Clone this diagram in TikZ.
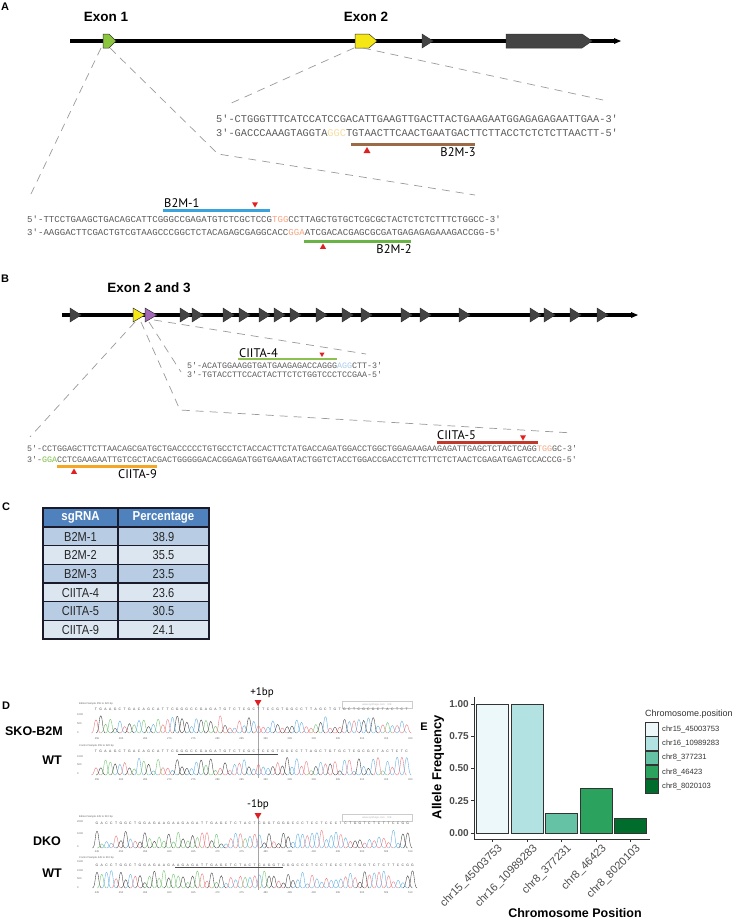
\documentclass[tikz,border=0pt]{standalone}
\usepackage{fontspec}
\setmainfont{Liberation Sans}
\newfontfamily\seqfont{Liberation Mono}
\newfontfamily\guidefont{PT Sans}
\usepackage{tikz}
\usetikzlibrary{shapes.geometric}

\definecolor{exongreen}{HTML}{8CC63F}
\definecolor{exonyellow}{HTML}{F5E616}
\definecolor{exonpurple}{HTML}{A366B8}
\definecolor{exongray}{HTML}{444444}
\definecolor{seqgray}{HTML}{5A5A5A}
\definecolor{dashgray}{HTML}{9A9A9A}
\definecolor{b2mblue}{HTML}{3BA3DB}
\definecolor{b2mgreen}{HTML}{6AB446}
\definecolor{b2mbrown}{HTML}{9C6B45}
\definecolor{ciitagreen}{HTML}{8CC152}
\definecolor{ciitared}{HTML}{C0392B}
\definecolor{ciitaorange}{HTML}{F5A623}
\definecolor{cutred}{HTML}{E02020}
\definecolor{pamorange}{HTML}{F4A582}
\definecolor{pamyellow}{HTML}{F7DCA0}
\definecolor{pamblue}{HTML}{A9CCE8}
\definecolor{pamgreen}{HTML}{7AC143}
\definecolor{tabhead}{HTML}{4F81BD}
\definecolor{tabdark}{HTML}{B8CCE4}
\definecolor{tablight}{HTML}{DCE6F1}
\definecolor{tabline}{HTML}{1A1A2A}
\definecolor{bugnA}{HTML}{EDF8FB}
\definecolor{bugnB}{HTML}{B2E2E2}
\definecolor{bugnC}{HTML}{66C2A4}
\definecolor{bugnD}{HTML}{2CA25F}
\definecolor{bugnE}{HTML}{006D2C}
\definecolor{peakA}{HTML}{6CC06A}
\definecolor{peakC}{HTML}{5AAAE2}
\definecolor{peakG}{HTML}{3A3A3A}
\definecolor{peakT}{HTML}{EC7077}

\tikzstyle{panel} = [font=\bfseries\fontsize{11}{11}\selectfont, inner sep=0]
\tikzstyle{exontitle} = [font=\bfseries\fontsize{13.5}{14}\selectfont, inner sep=0]
\tikzstyle{geneline} = [line width=4pt, black]
\tikzstyle{exonbox} = [draw=black!80, line width=0.5pt]
\tikzstyle{zoomline} = [dashgray, line width=0.7pt, dash pattern=on 8pt off 6pt]
\tikzstyle{guide} = [line width=3pt]
\tikzstyle{guidelabel} = [font=\guidefont\fontsize{12.5}{13}\selectfont, inner sep=0]
\tikzstyle{cutup} = [regular polygon, regular polygon sides=3, fill=cutred, inner sep=0, minimum size=8pt]
\tikzstyle{cutdown} = [cutup, shape border rotate=180]
\tikzstyle{seqline} = [text=seqgray, inner sep=0, anchor=base west]
\tikzstyle{cellhead} = [font=\bfseries\fontsize{13}{13}\selectfont, text=white, xscale=0.88, inner sep=0]
\tikzstyle{cell} = [font=\fontsize{13}{13}\selectfont, text=black!85, xscale=0.85, inner sep=0]
\tikzstyle{ticklab} = [font=\bfseries\fontsize{10}{10}\selectfont, text=black!70, inner sep=0]
\tikzstyle{xlab} = [font=\fontsize{11}{11}\selectfont, text=black!70, rotate=45, anchor=north east, inner sep=0]
\tikzstyle{axistitle} = [font=\bfseries\fontsize{13}{13}\selectfont, inner sep=0]
\tikzstyle{bar} = [draw=black!80, line width=0.7pt]
\tikzstyle{legendlab} = [font=\fontsize{7.6}{8}\selectfont, text=black!80, anchor=west, inner sep=0]
\tikzstyle{tinytext} = [font=\fontsize{2.6}{3}\selectfont, text=black!60, inner sep=0]
\tikzstyle{baseletter} = [font=\fontsize{3.4}{4}\selectfont, text=black!70, inner sep=0]
\tikzstyle{sample} = [font=\bfseries\fontsize{12.5}{13}\selectfont, inner sep=0, anchor=east]
\tikzstyle{traceA} = [peakA, line width=0.35pt]
\tikzstyle{traceC} = [peakC, line width=0.35pt]
\tikzstyle{traceG} = [peakG, line width=0.35pt]
\tikzstyle{traceT} = [peakT, line width=0.35pt]

\newcommand\seqbig{\seqfont\fontsize{10.3}{12}\selectfont}
\newcommand\seqmid{\seqfont\fontsize{9.07}{11}\selectfont}
\newcommand\seqsmall{\seqfont\fontsize{8.33}{10}\selectfont}

% one peak and one letter per base
\newcount\basenum
\newcommand\chromo[4]{\def\chx{#1}\def\chy{#2}\def\chl{#3}\global\basenum=0 \chromonext#4\relax}
\def\chromonext#1{\ifx#1\relax\else\chromopeak{#1}\global\advance\basenum by 1 \expandafter\chromonext\fi}
\def\chromopeak#1{%
  \pgfmathsetmacro\pkx{\chx+4.78*\the\basenum}%
  \pgfmathsetmacro\pkh{4+14*rnd}%
  \draw[trace#1] ({\pkx-4.6},\chy) .. controls ({\pkx-1.6},\chy) and ({\pkx-1.9},{\chy-\pkh}) .. (\pkx,{\chy-\pkh}) .. controls ({\pkx+1.9},{\chy-\pkh}) and ({\pkx+1.6},\chy) .. ({\pkx+4.6},\chy);%
  \node[baseletter] at (\pkx,\chl) {#1};}

\begin{document}
\begin{tikzpicture}[x=1pt,y=-1pt]
\useasboundingbox[fill=white] (0,0) rectangle (735,922);
\pgfmathsetseed{11}

% ---------- A ----------
\node[panel] (la) at (5,7) {A};
\node[exontitle] (ex1) at (106,17) {Exon 1};
\node[exontitle] (ex2) at (366,17) {Exon 2};
\draw[geneline] (70,41) -- (616,41);
\fill (614,38) -- (621,41) -- (614,44) -- cycle;
\filldraw[exonbox, fill=exongreen] (103,34) -- (109,34) -- (116,41) -- (109,48) -- (103,48) -- cycle;
\filldraw[exonbox, fill=exonyellow] (355,34) -- (369,34) -- (377,41) -- (369,48) -- (355,48) -- cycle;
\filldraw[exonbox, fill=exongray] (422,34) -- (433,41) -- (422,48) -- cycle;
\filldraw[exonbox, fill=exongray] (506,34) -- (582,34) -- (592,41) -- (582,48) -- (506,48) -- cycle;

\coordinate (e1a) at (101,48);
\coordinate (e1b) at (110,48);
\coordinate (e2a) at (354,48);
\coordinate (e2b) at (363,48);
\draw[zoomline] (e1a) -- (30,196);
\draw[zoomline] (e1b) -- (218,154) -- (475,195);
\draw[zoomline] (e2a) -- (227,105);
\draw[zoomline] (e2b) -- (603,100);

% B2M-3
\node[seqline, font=\seqbig] (s3a) at (216,122) {5'-CTGGGTTTCATCCATCCGACATTGAAGTTGACTTACTGAAGAATGGAGAGAGAATTGAA-3'};
\node[seqline, font=\seqbig] (s3b) at (216,136.5) {3'-GACCCAAAGTAGGTA{\color{pamyellow}GGC}TGTAACTTCAACTGAATGACTTCTTACCTCTCTCTTAACTT-5'};
\draw[guide, b2mbrown] (351,144) -- (475,144);
\node[cutup] (c3) at (367,151) {};
\node[guidelabel, anchor=east] (g3) at (476,152) {B2M-3};

% B2M-1 and B2M-2
\node[guidelabel, anchor=west] (g1) at (164,203) {B2M-1};
\draw[guide, b2mblue] (163,210) -- (270,210);
\node[cutdown, minimum size=7pt] (c1) at (255,204) {};
\node[seqline, font=\seqmid] (s1a) at (27,222.5) {5'-TTCCTGAAGCTGACAGCATTCGGGCCGAGATGTCTCGCTCCG{\color{pamorange}TGG}CCTTAGCTGTGCTCGCGCTACTCTCTCTTTCTGGCC-3'};
\node[seqline, font=\seqmid] (s1b) at (27,235) {3'-AAGGACTTCGACTGTCGTAAGCCCGGCTCTACAGAGCGAGGCACC{\color{pamorange}GGA}ATCGACACGAGCGCGATGAGAGAGAAAGACCGG-5'};
\draw[guide, b2mgreen] (304,241) -- (411,241);
\node[cutup, minimum size=7pt] (c2) at (323,247) {};
\node[guidelabel, anchor=east] (g2) at (412,249.5) {B2M-2};

% ---------- B ----------
\node[panel] (lb) at (5,279) {B};
\node[exontitle] (ex23) at (149,288) {Exon 2 and 3};
\draw[geneline] (62,315) -- (633,315);
\fill (631,312) -- (638,315) -- (631,318) -- cycle;
\foreach \t in {70,180,192,223,239,259,274,290,316,342,361,401,420,459,530,544,570,597}
  \filldraw[exonbox, fill=exongray] (\t,308) -- (\t+11,315) -- (\t,322) -- cycle;
\filldraw[exonbox, fill=exonyellow] (133,308) -- (145,315) -- (133,322) -- cycle;
\filldraw[exonbox, fill=exonpurple] (145,308) -- (157,315) -- (145,322) -- cycle;

\coordinate (e3a) at (135,322);
\coordinate (e3b) at (141,322);
\coordinate (e4a) at (149,322);
\coordinate (e4b) at (154,320);
\draw[zoomline] (e3a) -- (30,437);
\draw[zoomline] (e3b) -- (180,410) -- (573,433);
\draw[zoomline] (e4a) -- (181,372);
\draw[zoomline] (e4b) -- (366,354);

% CIITA-4
\node[guidelabel, anchor=west] (g4) at (239,353) {CIITA-4};
\draw[guide, ciitagreen, line width=2.5pt] (238,359) -- (337,359);
\node[cutdown, minimum size=6pt] (c4) at (322,354) {};
\node[seqline, font=\seqsmall] (s4a) at (187,368.5) {5'-ACATGGAAGGTGATGAAGAGACCAGGG{\color{pamblue}AGG}CTT-3'};
\node[seqline, font=\seqsmall] (s4b) at (187,377.5) {3'-TGTACCTTCCACTACTTCTCTGGTCCCTCCGAA-5'};

% CIITA-5 and CIITA-9
\node[guidelabel, anchor=west] (g5) at (437,435) {CIITA-5};
\draw[guide, ciitared] (437,442) -- (538,442);
\node[cutdown, minimum size=7pt] (c5) at (523,437) {};
\node[seqline, font=\seqsmall] (s5a) at (27,451) {5'-CCTGGAGCTTCTTAACAGCGATGCTGACCCCCTGTGCCTCTACCACTTCTATGACCAGATGGACCTGGCTGGAGAAGAAGAGATTGAGCTCTACTCAGG{\color{pamorange}TGG}GC-3'};
\node[seqline, font=\seqsmall] (s5b) at (27,462.5) {3'-{\color{pamgreen}GGA}CCTCGAAGAATTGTCGCTACGACTGGGGGACACGGAGATGGTGAAGATACTGGTCTACCTGGACCGACCTCTTCTTCTCTAACTCGAGATGAGTCCACCCG-5'};
\draw[guide, ciitaorange] (57,466) -- (157,466);
\node[cutup, minimum size=7pt] (c9) at (74,472) {};
\node[guidelabel, anchor=east] (g9) at (157,474) {CIITA-9};

% ---------- C ----------
\node[panel] (lc) at (6,507) {C};
\fill[tabhead] (43,508) rectangle (209,527);
\node[cellhead] (hsg) at (80.5,517.5) {sgRNA};
\node[cellhead] (hpc) at (163.5,517.5) {Percentage};
\foreach \sg/\pc [count=\r] in {B2M-1/38.9, B2M-2/35.5, B2M-3/23.5, CIITA-4/23.6, CIITA-5/30.5, CIITA-9/24.1} {
  \pgfmathsetmacro\ytop{527+18.67*(\r-1)}
  \ifodd\r \def\rowfill{tabdark}\else \def\rowfill{tablight}\fi
  \fill[\rowfill] (43,\ytop) rectangle (209,\ytop+18.67);
  \node[cell] (sg\r) at (80.5,\ytop+9.6) {\sg};
  \node[cell] (pc\r) at (163.5,\ytop+9.6) {\pc};
}
\foreach \r in {1,...,6}
  \draw[tabline, line width=1.1pt] (43,527+18.67*\r-18.67) -- (209,527+18.67*\r-18.67);
\draw[tabline, line width=1.1pt] (43,508) rectangle (209,639);
\draw[tabline, line width=1.1pt] (118,508) -- (118,639);

% ---------- D ----------
\node[panel] (ld) at (6,706) {D};
\node[sample] (sko) at (63,731) {SKO-B2M};
\node[sample] (wt1) at (62,760) {WT};
\node[sample] (dko) at (61,841) {DKO};
\node[sample] (wt2) at (62,873) {WT};

\draw[black!35, line width=0.5pt] (258,702) -- (258,778);
\draw[black!35, line width=0.5pt] (258,815) -- (258,890);

% edited B2M
\node[tinytext, anchor=west] (hd1) at (79,704) {Edited Sample 255 to 320 bp};
\draw[black!20, line width=0.3pt] (342,701) rectangle (412,708);
\node[tinytext, text=black!30] (wm1) at (377,704.5) {www.synthego.com\quad ICE};
\node[tinytext, anchor=west] (ya1) at (77,715) {1000};
\node[tinytext, anchor=west] (yb1) at (77,724) {500};
\node[tinytext, anchor=west] (yc1) at (77,733) {0};
\chromo{96}{733}{709.3}{TGAAGCTGACAGCATTCGGGCCGAGATGTCTCGCTTCCGTGGCCTTAGCTGTGCTCGCGCTACTCT}
\foreach \n [count=\i from 0] in {255,260,...,320}
  \node[tinytext] at (97+24.1*\i,738.3) {\n};

% control B2M
\node[tinytext, anchor=west] (hd2) at (79,745.7) {Control Sample 255 to 320 bp};
\node[tinytext, anchor=west] (ya2) at (77,757) {1000};
\node[tinytext, anchor=west] (yb2) at (77,765) {500};
\node[tinytext, anchor=west] (yc2) at (77,774) {0};
\chromo{96}{775}{751.7}{TGAAGCTGACAGCATTCGGGCCGAGATGTCTCGCTCCGTGGCCTTAGCTGTGCTCGCGCTACTCTC}
\draw[black!70, line width=0.3pt] (178,754) -- (278,754);
\foreach \n [count=\i from 0] in {255,260,...,320}
  \node[tinytext] at (97+24.1*\i,779.3) {\n};

% cut sites
\node[panel, font=\fontsize{11}{11}\selectfont] (p1) at (262,693) {\guidefont +1bp};
\node[cutdown] (c7) at (258,702) {};
\node[panel, font=\fontsize{11}{11}\selectfont] (m1) at (258,805) {\guidefont -1bp};
\node[cutdown] (c6) at (258,815) {};

% edited DKO
\node[tinytext, anchor=west] (hd3) at (79,816.5) {Edited Sample 445 to 510 bp};
\draw[black!20, line width=0.3pt] (342,814) rectangle (412,821);
\node[tinytext, text=black!30] (wm3) at (377,817.5) {www.synthego.com\quad ICE};
\node[tinytext, anchor=west] (ya3) at (77,821.5) {2000};
\node[tinytext, anchor=west] (yb3) at (77,834) {1000};
\node[tinytext, anchor=west] (yc3) at (77,847) {0};
\chromo{97}{848}{823.5}{GACCTGGCTGGAGAAGAAGAGATTGAGCTCTACTCGGTGGGCCCTCCTCCCTCTGGTCTCTTCCGG}
\foreach \n [count=\i from 0] in {445,450,...,510}
  \node[tinytext] at (97+24.1*\i,851.7) {\n};

% control DKO
\node[tinytext, anchor=west] (hd4) at (79,857.7) {Control Sample 445 to 510 bp};
\node[tinytext, anchor=west] (ya4) at (77,861.5) {1500};
\node[tinytext, anchor=west] (yb4) at (77,871) {1000};
\node[tinytext, anchor=west] (yc4) at (77,879) {500};
\node[tinytext, anchor=west] (yd4) at (77,888) {0};
\chromo{97}{888}{865}{GACCTGGCTGGAGAAGAAGAGATTGAGCTCTACTCAGGTGGGCCCTCCTCCCTCTGGTCTCTTCCGG}
\draw[black!70, line width=0.3pt] (175,867.3) -- (283,867.3);
\foreach \n [count=\i from 0] in {445,450,...,510}
  \node[tinytext] at (97+24.1*\i,892.7) {\n};

% ---------- E ----------
\node[panel] (le) at (424,727) {E};
\filldraw[bar, fill=bugnA] (476,833) rectangle (508,704);
\filldraw[bar, fill=bugnB] (511,833) rectangle (543,704);
\filldraw[bar, fill=bugnC] (545,833) rectangle (577,813.6);
\filldraw[bar, fill=bugnD] (580,833) rectangle (612,787.9);
\filldraw[bar, fill=bugnE] (614,833) rectangle (646,818.8);
\draw[black!80, line width=0.8pt] (474,697) -- (474,839) -- (650,839);
\foreach \v/\t in {0/0.00, 0.25/0.25, 0.5/0.50, 0.75/0.75, 1/1.00} {
  \draw[black!80, line width=0.6pt] (471,833-129*\v) -- (474,833-129*\v);
  \node[ticklab, anchor=east] at (469,833-129*\v) {\t};
}
\foreach \c/\lab in {492/chr15\_45003753, 527/chr16\_10989283, 561/chr8\_377231, 596/chr8\_46423, 630/chr8\_8020103} {
  \draw[black!80, line width=0.6pt] (\c,839) -- (\c,842);
  \node[xlab] at (\c+5,843) {\lab};
}
\node[axistitle, rotate=90] (yt) at (438,767) {Allele Frequency};
\node[axistitle, font=\bfseries\fontsize{12.5}{13}\selectfont] (xt) at (575,913) {Chromosome Position};

\node[legendlab, font=\fontsize{9}{9}\selectfont] (lt) at (645,714) {Chromosome.position};
\foreach \lab/\col [count=\k] in {chr15\_45003753/bugnA, chr16\_10989283/bugnB, chr8\_377231/bugnC, chr8\_46423/bugnD, chr8\_8020103/bugnE} {
  \filldraw[bar, line width=0.5pt, fill=\col] (645,708+14.3*\k) rectangle +(13,13.5);
  \node[legendlab] (lg\k) at (662,715+14.3*\k) {\lab};
}
\end{tikzpicture}
\end{document}
